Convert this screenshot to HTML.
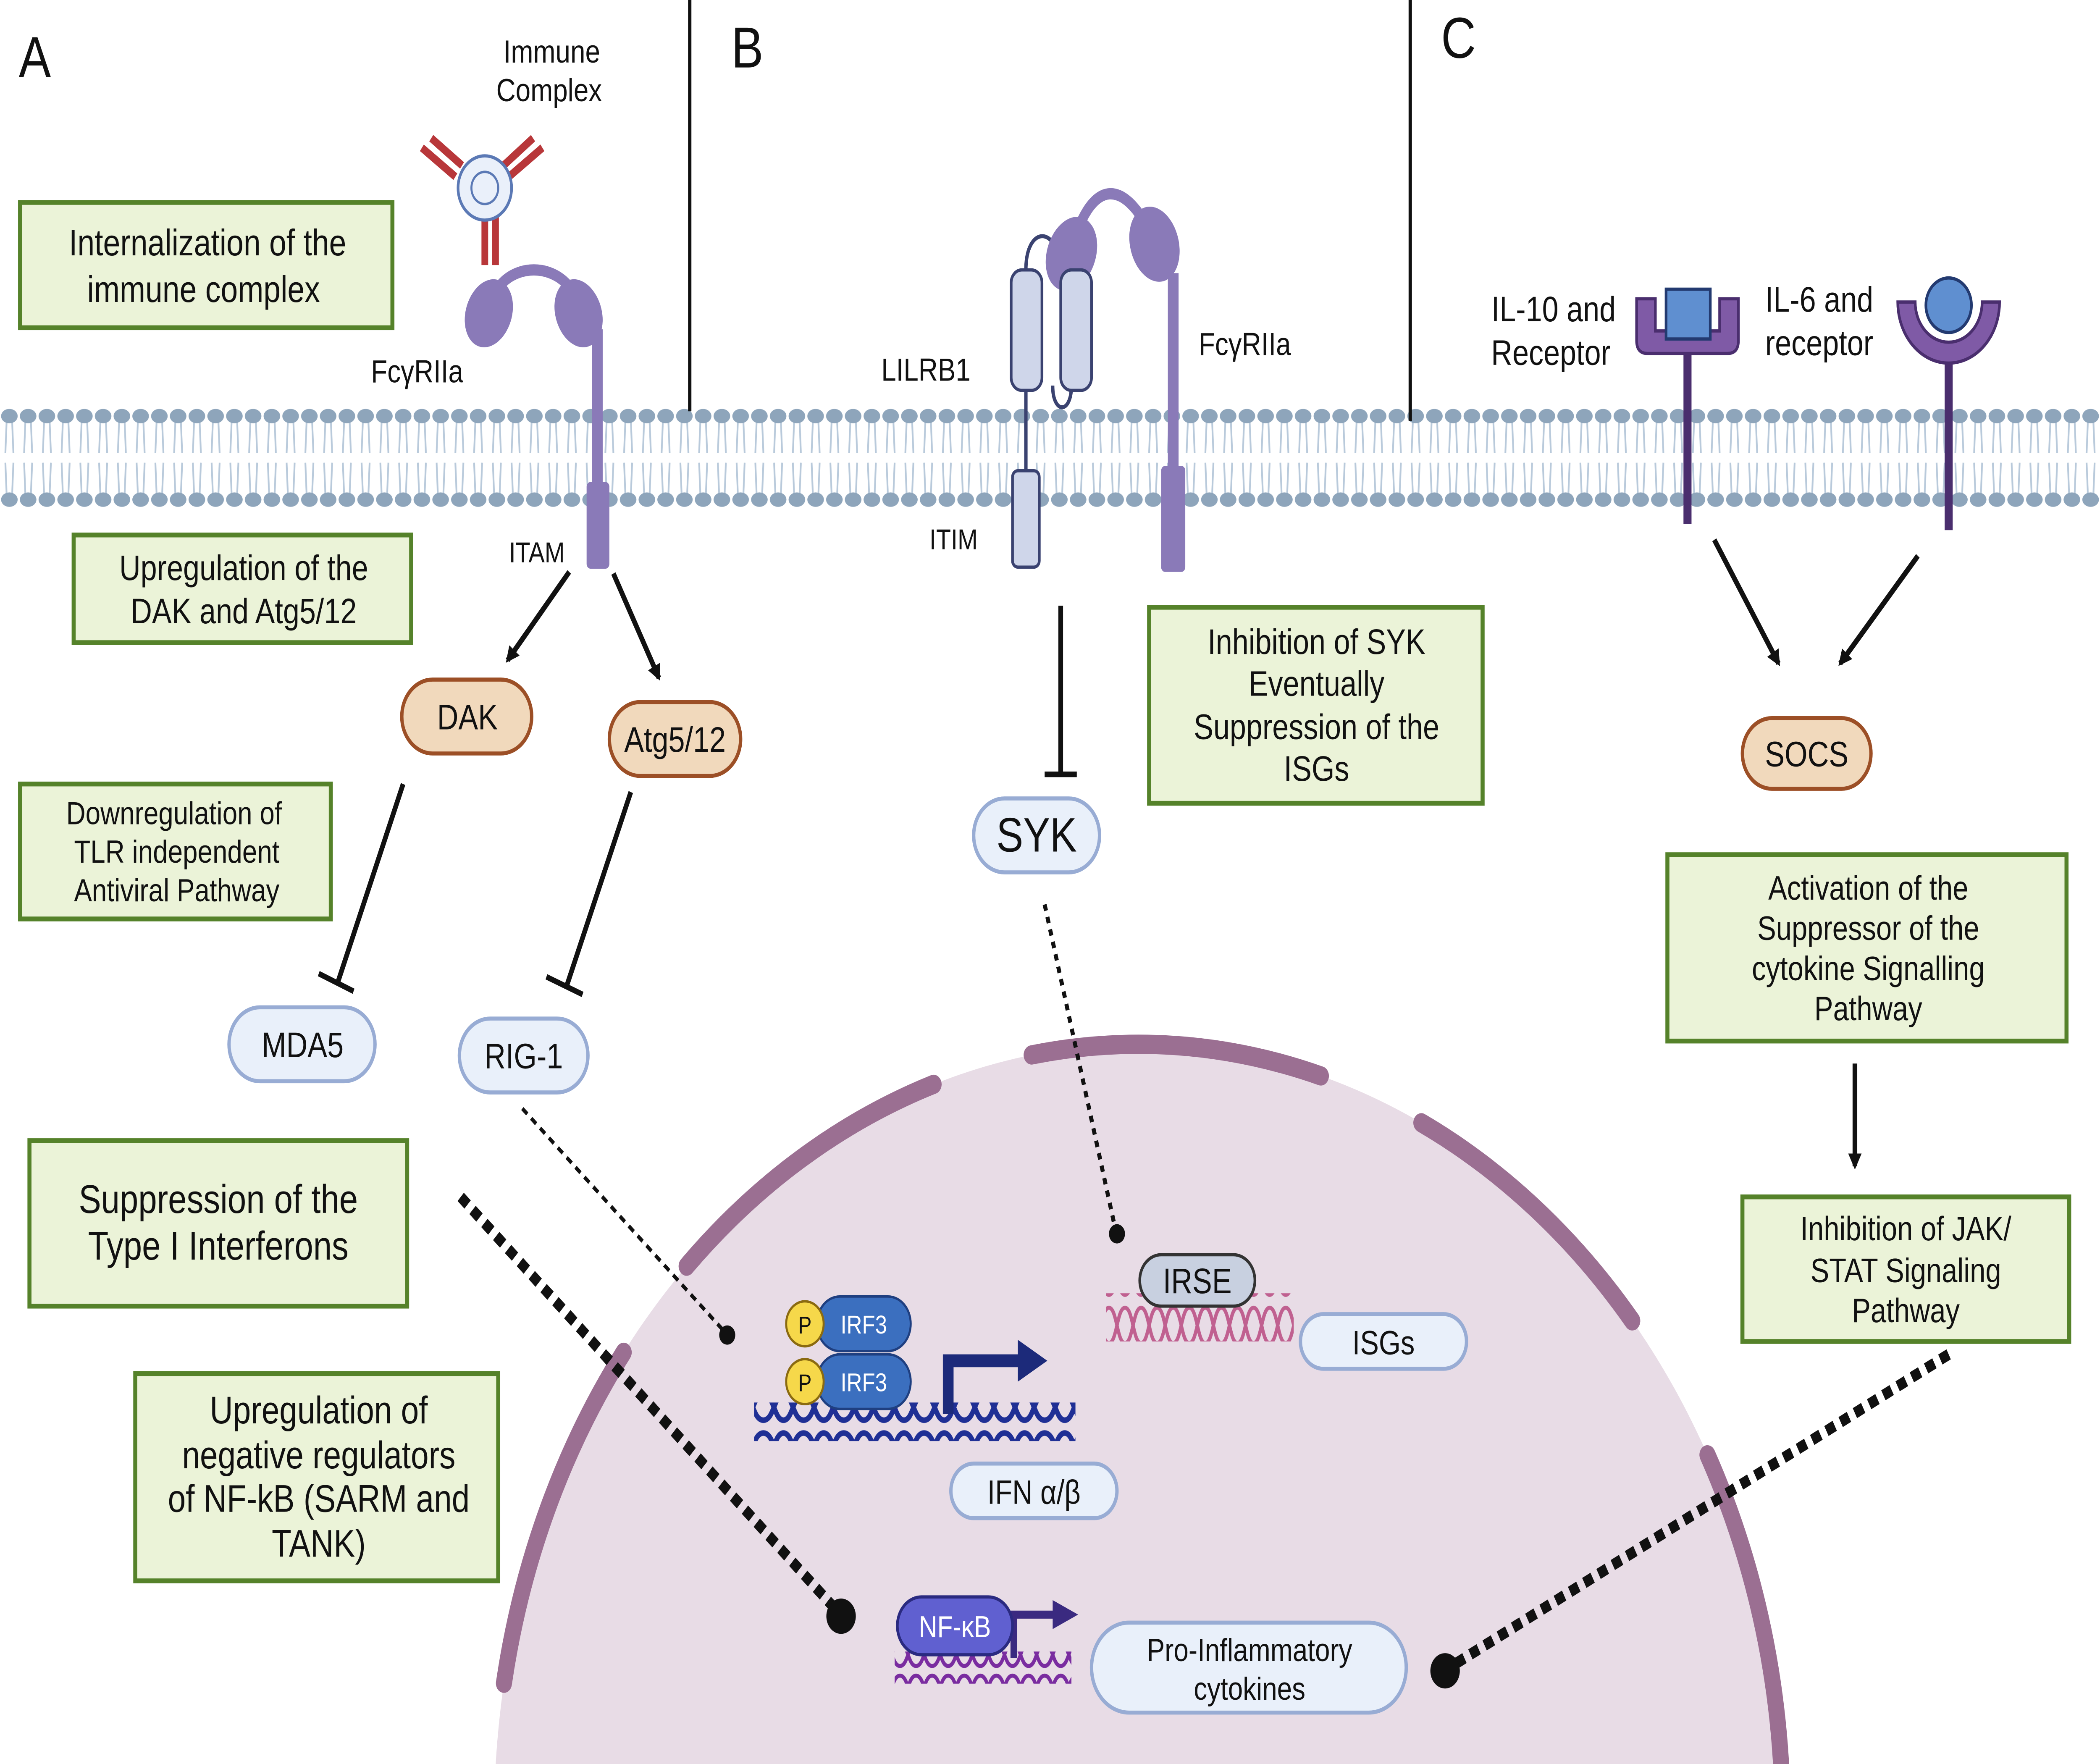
<!DOCTYPE html>
<html><head><meta charset="utf-8">
<style>
html,body{margin:0;padding:0;background:#fff;overflow:hidden;width:100vw;height:100vh;position:fixed;top:0;left:0;}
svg{display:block;position:fixed;left:0;top:0;width:100vw;height:100vh;overflow:hidden;}
text{font-family:"Liberation Sans",sans-serif;fill:#111;}
.box{fill:#ebf3d8;stroke:#55822a;stroke-width:3;}
.or{fill:#f1d9bc;stroke:#9c4f26;stroke-width:2.5;}
.bl{fill:#e9f0fa;stroke:#98acd4;stroke-width:2.5;}
.ln{stroke:#111;stroke-width:3.5;fill:none;}
</style></head><body>
<svg xmlns="http://www.w3.org/2000/svg" viewBox="0 0 1568 1098" preserveAspectRatio="none">
<defs>
<clipPath id="cp"><rect width="1568" height="1098"/></clipPath>
<pattern id="mem" x="0" y="252" width="14" height="66" patternUnits="userSpaceOnUse">
<path d="M5 9 L4 30 M9 9 L10 30 M5 57 L4 36 M9 57 L10 36" stroke="#b9cadb" stroke-width="1.3" fill="none"/>
<ellipse cx="7" cy="7" rx="6.2" ry="4.5" fill="#8ea5bb"/>
<ellipse cx="7" cy="59" rx="6.2" ry="4.5" fill="#8ea5bb"/>
</pattern>
<marker id="ar" markerWidth="10" markerHeight="10" refX="8" refY="5" orient="auto" markerUnits="userSpaceOnUse"><path d="M0,0 L10,5 L0,10 z" fill="#111"/></marker>
<pattern id="dna1" width="30" height="24" patternUnits="userSpaceOnUse"><path d="M0 4 C8 4 8 20 15 20 C22 20 22 4 30 4 M0 20 C8 20 8 4 15 4 C22 4 22 20 30 20" stroke="#1f2f95" stroke-width="3.5" fill="none"/></pattern>
<pattern id="dna2" width="24" height="20" patternUnits="userSpaceOnUse"><path d="M0 3 C6 3 6 17 12 17 C18 17 18 3 24 3 M0 17 C6 17 6 3 12 3 C18 3 18 17 24 17" stroke="#7a2ca0" stroke-width="2.5" fill="none"/></pattern>
<pattern id="dna3" width="24" height="30" patternUnits="userSpaceOnUse"><path d="M0 4 C6 4 6 26 12 26 C18 26 18 4 24 4 M0 26 C6 26 6 4 12 4 C18 4 18 26 24 26" stroke="#c06090" stroke-width="2.5" fill="none"/></pattern>
</defs>
<g clip-path="url(#cp)">
<rect width="1568" height="1098" fill="#fff"/>
<circle cx="850" cy="1131" r="481" fill="#e8dce6"/>
<circle cx="850" cy="1131" r="481" fill="none" stroke="#9b6f92" stroke-width="12" stroke-linecap="round" pathLength="360" stroke-dasharray="0 190 27 8.5 26 9 26 9.6 24 12 24 200"/>
<rect x="0" y="252" width="1568" height="66" fill="url(#mem)"/>
<line x1="515" y1="0" x2="515" y2="256" stroke="#111" stroke-width="2.5"/>
<line x1="1053" y1="0" x2="1053" y2="262" stroke="#111" stroke-width="2.5"/>
<text x="14" y="48" font-size="36">A</text>
<text x="546" y="42" font-size="36">B</text>
<text x="1076" y="36" font-size="36">C</text>

<text x="412" y="39" font-size="20" text-anchor="middle">Immune</text>
<text x="410" y="63" font-size="20" text-anchor="middle">Complex</text>
<g stroke="#b8373a" stroke-width="5" fill="none">
<path d="M340 110 L315 92 M345 103 L322 86 M380 110 L405 92 M376 103 L398 86 M362 135 L362 165 M370 135 L370 165"/>
</g>
<circle cx="362" cy="117" r="20" fill="#eaf0fa" stroke="#5b79b5" stroke-width="2"/>
<circle cx="362" cy="117" r="10" fill="none" stroke="#5b79b5" stroke-width="1.5"/>
<path d="M366 192 C372 160 425 160 432 192" stroke="#8a7ab8" stroke-width="7" fill="none"/>
<ellipse cx="365" cy="195" rx="17" ry="22" fill="#8a7ab8" transform="rotate(25 365 195)"/>
<ellipse cx="432" cy="195" rx="17" ry="22" fill="#8a7ab8" transform="rotate(-25 432 195)"/>
<line x1="446" y1="205" x2="446" y2="310" stroke="#8a7ab8" stroke-width="8"/>
<rect x="438" y="300" width="17" height="54" rx="3" fill="#8a7ab8"/>
<text x="277" y="238" font-size="20">FcγRIIa</text>
<text x="380" y="350" font-size="18">ITAM</text>
<rect class="box" x="15" y="126" width="278" height="78"/>
<text x="155" y="159" font-size="23" text-anchor="middle">Internalization of the</text>
<text x="152" y="188" font-size="23" text-anchor="middle">immune complex</text>
<rect class="box" x="55" y="333" width="252" height="67"/>
<text x="182" y="361" font-size="22" text-anchor="middle">Upregulation of the</text>
<text x="182" y="388" font-size="22" text-anchor="middle">DAK and Atg5/12</text>
<line class="ln" x1="425" y1="356" x2="379" y2="411" marker-end="url(#ar)"/>
<line class="ln" x1="458" y1="357" x2="492" y2="422" marker-end="url(#ar)"/>
<rect class="or" x="300" y="423" width="97" height="46" rx="23"/>
<text x="349" y="454" font-size="22" text-anchor="middle">DAK</text>
<rect class="or" x="455" y="437" width="98" height="46" rx="23"/>
<text x="504" y="468" font-size="22" text-anchor="middle">Atg5/12</text>
<rect class="box" x="15" y="488" width="232" height="84"/>
<text x="130" y="513" font-size="20" text-anchor="middle">Downregulation of</text>
<text x="132" y="537" font-size="20" text-anchor="middle">TLR independent</text>
<text x="132" y="561" font-size="20" text-anchor="middle">Antiviral Pathway</text>
<line class="ln" stroke-width="4" x1="301" y1="488" x2="252" y2="612"/>
<line class="ln" stroke-width="4" x1="238" y1="606" x2="264" y2="617"/>
<line class="ln" stroke-width="4" x1="471" y1="493" x2="423" y2="614"/>
<line class="ln" stroke-width="4" x1="408" y1="608" x2="435" y2="619"/>
<rect class="bl" x="171" y="627" width="109" height="46" rx="23"/>
<text x="226" y="658" font-size="22" text-anchor="middle">MDA5</text>
<rect class="bl" x="343" y="634" width="96" height="46" rx="23"/>
<text x="391" y="665" font-size="22" text-anchor="middle">RIG-1</text>
<rect class="box" x="22" y="710" width="282" height="103"/>
<text x="163" y="755" font-size="25" text-anchor="middle">Suppression of the</text>
<text x="163" y="784" font-size="25" text-anchor="middle">Type I Interferons</text>
<rect class="box" x="101" y="855" width="271" height="129"/>
<text x="238" y="886" font-size="24" text-anchor="middle">Upregulation of</text>
<text x="238" y="914" font-size="24" text-anchor="middle">negative regulators</text>
<text x="238" y="941" font-size="24" text-anchor="middle">of NF-kB (SARM and</text>
<text x="238" y="969" font-size="24" text-anchor="middle">TANK)</text>
<line x1="390" y1="690" x2="540" y2="828" stroke="#111" stroke-width="2.5" stroke-dasharray="5 4"/>
<circle cx="543" cy="831" r="6" fill="#111"/>
<line x1="344" y1="745" x2="622" y2="1000" stroke="#111" stroke-width="7" stroke-dasharray="7 5"/>
<circle cx="628" cy="1006" r="11" fill="#111"/>

<rect x="563" y="873" width="240" height="24" fill="url(#dna1)"/>
<path d="M708 880 L708 847 L775 847" stroke="#1c2a7a" stroke-width="8" fill="none"/>
<path d="M760 834 L782 847 L760 860 z" fill="#1c2a7a"/>
<rect x="610" y="807" width="70" height="34" rx="17" fill="#3b6fbf" stroke="#1f3f80" stroke-width="1.5"/>
<rect x="610" y="843" width="70" height="34" rx="17" fill="#3b6fbf" stroke="#1f3f80" stroke-width="1.5"/>
<text x="645" y="830" font-size="16" text-anchor="middle" style="fill:#fff">IRF3</text>
<text x="645" y="866" font-size="16" text-anchor="middle" style="fill:#fff">IRF3</text>
<circle cx="601" cy="824" r="14" fill="#f6d84a" stroke="#8a6a10" stroke-width="1.5"/>
<circle cx="601" cy="860" r="14" fill="#f6d84a" stroke="#8a6a10" stroke-width="1.5"/>
<text x="601" y="830" font-size="15" text-anchor="middle">P</text>
<text x="601" y="866" font-size="15" text-anchor="middle">P</text>
<rect class="bl" x="710" y="911" width="124" height="34" rx="17"/>
<text x="772" y="936" font-size="21" text-anchor="middle">IFN α/β</text>
<rect x="826" y="805" width="140" height="30" fill="url(#dna3)"/>
<rect x="851" y="781" width="86" height="32" rx="16" fill="#c8d0e0" stroke="#333" stroke-width="2"/>
<text x="894" y="805" font-size="22" text-anchor="middle">IRSE</text>
<rect class="bl" x="971" y="818" width="124" height="34" rx="17"/>
<text x="1033" y="843" font-size="21" text-anchor="middle">ISGs</text>
<rect x="668" y="1028" width="132" height="20" fill="url(#dna2)"/>
<path d="M757 1032 L757 1005 L795 1005" stroke="#3a2a80" stroke-width="5" fill="none"/>
<path d="M786 996 L805 1005 L786 1014 z" fill="#3a2a80"/>
<rect x="670" y="994" width="86" height="36" rx="18" fill="#6060d0" stroke="#2a2a80" stroke-width="2"/>
<text x="713" y="1019" font-size="19" text-anchor="middle" style="fill:#fff">NF-κB</text>
<rect class="bl" x="815" y="1010" width="235" height="56" rx="28"/>
<text x="933" y="1034" font-size="20" text-anchor="middle">Pro-Inflammatory</text>
<text x="933" y="1058" font-size="20" text-anchor="middle">cytokines</text>

<path d="M786 240 C786 258 800 258 800 240 L800 180" stroke="#3a4270" stroke-width="2.5" fill="none"/>
<line x1="766" y1="243" x2="766" y2="293" stroke="#3a4270" stroke-width="2.5"/>
<path d="M766 168 C766 140 790 140 792 168" stroke="#3a4270" stroke-width="2.5" fill="none"/>
<path d="M800 155 C815 110 840 110 862 150" stroke="#8a7ab8" stroke-width="7" fill="none"/>
<ellipse cx="800" cy="158" rx="18" ry="24" fill="#8a7ab8" transform="rotate(25 800 158)"/>
<ellipse cx="862" cy="152" rx="18" ry="24" fill="#8a7ab8" transform="rotate(-20 862 152)"/>
<line x1="876" y1="170" x2="876" y2="300" stroke="#8a7ab8" stroke-width="8"/>
<rect x="867" y="290" width="18" height="66" rx="3" fill="#8a7ab8"/>
<rect x="755" y="168" width="23" height="75" rx="8" fill="#cfd6ea" stroke="#3a4270" stroke-width="2"/>
<rect x="792" y="168" width="23" height="75" rx="8" fill="#cfd6ea" stroke="#3a4270" stroke-width="2"/>
<rect x="756" y="293" width="20" height="60" rx="4" fill="#cfd6ea" stroke="#3a4270" stroke-width="2"/>
<text x="658" y="237" font-size="20">LILRB1</text>
<text x="694" y="342" font-size="18">ITIM</text>
<text x="895" y="221" font-size="20">FcγRIIa</text>
<line class="ln" x1="792" y1="377" x2="792" y2="482"/>
<line class="ln" x1="780" y1="482" x2="804" y2="482"/>
<rect class="bl" x="727" y="497" width="94" height="46" rx="23"/>
<text x="774" y="530" font-size="30" text-anchor="middle">SYK</text>
<rect class="box" x="858" y="378" width="249" height="122"/>
<text x="983" y="407" font-size="22" text-anchor="middle">Inhibition of SYK</text>
<text x="983" y="433" font-size="22" text-anchor="middle">Eventually</text>
<text x="983" y="460" font-size="22" text-anchor="middle">Suppression of the</text>
<text x="983" y="486" font-size="22" text-anchor="middle">ISGs</text>
<line x1="780" y1="563" x2="832" y2="762" stroke="#111" stroke-width="3" stroke-dasharray="4 4"/>
<circle cx="834" cy="768" r="6" fill="#111"/>

<text x="1160" y="200" font-size="22" text-anchor="middle">IL-10 and</text>
<text x="1158" y="227" font-size="22" text-anchor="middle">Receptor</text>
<text x="1318" y="194" font-size="22">IL-6 and</text>
<text x="1318" y="221" font-size="22">receptor</text>
<line x1="1260" y1="215" x2="1260" y2="326" stroke="#4a2e6e" stroke-width="6"/>
<path d="M1222 186 L1222 212 Q1222 220 1230 220 L1290 220 Q1298 220 1298 212 L1298 186 L1284 186 L1284 206 L1236 206 L1236 186 z" fill="#7f5aa6" stroke="#4a2e6e" stroke-width="2"/>
<rect x="1244" y="180" width="33" height="31" fill="#5f8fd0" stroke="#233a70" stroke-width="2"/>
<line x1="1455" y1="225" x2="1455" y2="330" stroke="#4a2e6e" stroke-width="6"/>
<path d="M1417 188 A38 38 0 0 0 1493 188 L1480 188 A25 25 0 0 1 1430 188 z" fill="#7f5aa6" stroke="#4a2e6e" stroke-width="2"/>
<circle cx="1455" cy="190" r="17" fill="#5f8fd0" stroke="#233a70" stroke-width="2"/>
<line class="ln" x1="1280" y1="336" x2="1328" y2="413" marker-end="url(#ar)"/>
<line class="ln" x1="1432" y1="346" x2="1374" y2="413" marker-end="url(#ar)"/>
<rect class="or" x="1301" y="447" width="96" height="44" rx="22"/>
<text x="1349" y="477" font-size="22" text-anchor="middle">SOCS</text>
<rect class="box" x="1245" y="532" width="298" height="116"/>
<text x="1395" y="560" font-size="21" text-anchor="middle">Activation of the</text>
<text x="1395" y="585" font-size="21" text-anchor="middle">Suppressor of the</text>
<text x="1395" y="610" font-size="21" text-anchor="middle">cytokine Signalling</text>
<text x="1395" y="635" font-size="21" text-anchor="middle">Pathway</text>
<line class="ln" x1="1385" y1="662" x2="1385" y2="726" marker-end="url(#ar)"/>
<rect class="box" x="1301" y="745" width="244" height="90"/>
<text x="1423" y="772" font-size="21" text-anchor="middle">Inhibition of JAK/</text>
<text x="1423" y="798" font-size="21" text-anchor="middle">STAT Signaling</text>
<text x="1423" y="823" font-size="21" text-anchor="middle">Pathway</text>
<line x1="1455" y1="843" x2="1086" y2="1036" stroke="#111" stroke-width="7" stroke-dasharray="7 5"/>
<circle cx="1079" cy="1040" r="11" fill="#111"/>
</g>
</svg>
</body></html>
